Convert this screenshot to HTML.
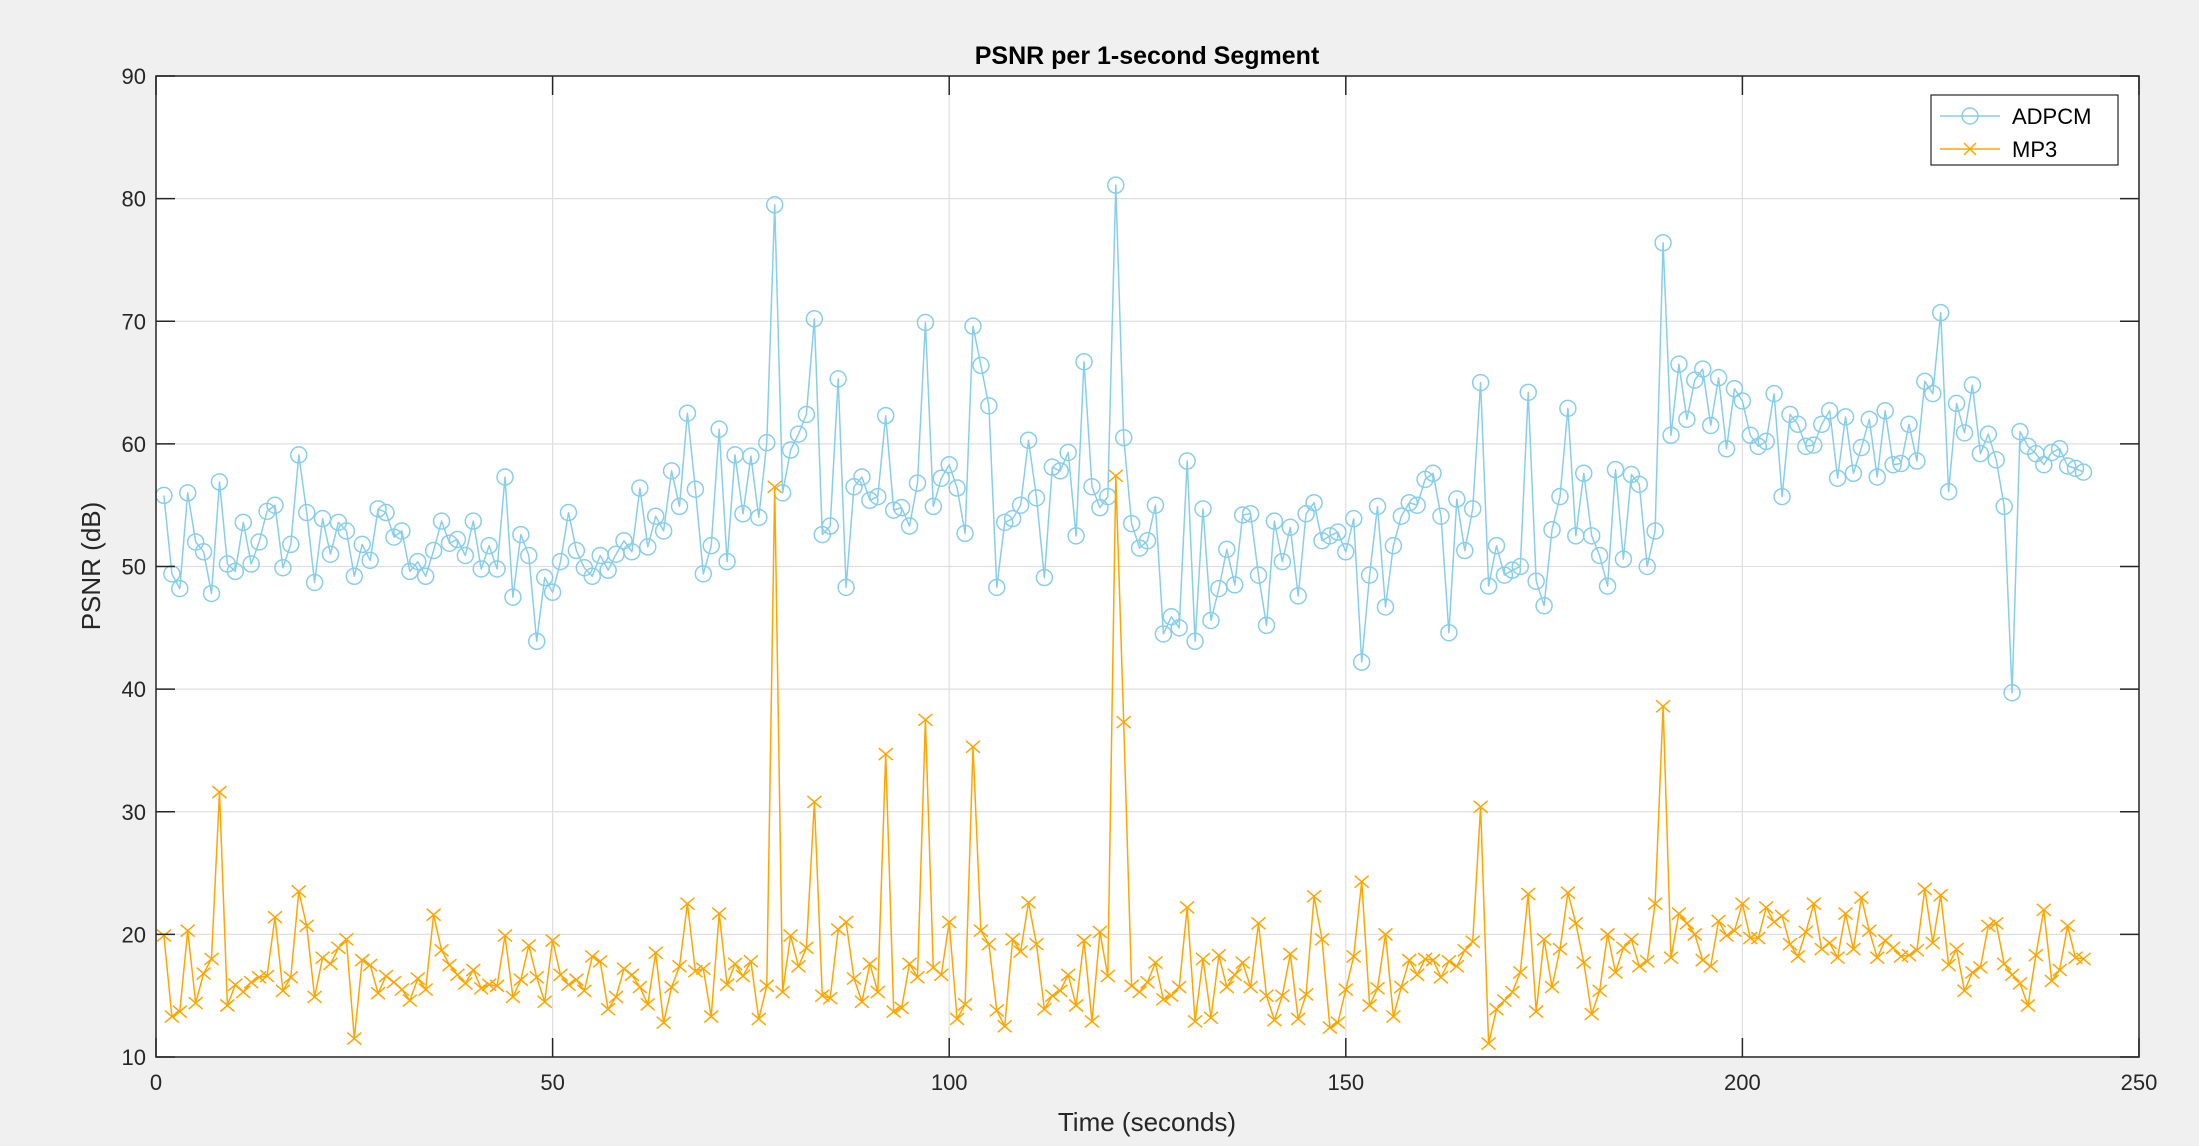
<!DOCTYPE html>
<html><head><meta charset="utf-8">
<style>
html,body{margin:0;padding:0;background:#f0f0f0;}
svg{display:block;font-family:"Liberation Sans",Arial,sans-serif;}
</style></head>
<body>
<svg id="chart" width="2199" height="1146" viewBox="0 0 2199 1146" xmlns="http://www.w3.org/2000/svg">
  <rect x="0" y="0" width="2199" height="1146" fill="#f0f0f0"/>
  <rect x="156" y="76" width="1983" height="981" fill="#ffffff"/>
  <g id="grid"></g>
  <g id="series"></g>
  <rect x="156" y="76" width="1983" height="981" fill="none" stroke="#262626" stroke-width="1.5"/>
  <g id="ticks"></g>
  <text x="1147" y="64" text-anchor="middle" font-size="25" font-weight="bold" fill="#000">PSNR per 1-second Segment</text>
  <text x="1147" y="1131" text-anchor="middle" font-size="26" fill="#262626">Time (seconds)</text>
  <text transform="translate(100,566) rotate(-90)" text-anchor="middle" font-size="26" fill="#262626">PSNR (dB)</text>
  <g>
    <rect x="1931" y="95" width="187" height="70" fill="#fff" stroke="#262626" stroke-width="1.2"/>
    <g>
      <line x1="1940" y1="116" x2="2000" y2="116" stroke="#87ceeb" stroke-width="1.5"/>
      <circle cx="1970" cy="116" r="8" fill="none" stroke="#87ceeb" stroke-width="1.5"/>
      <text x="2012" y="124" font-size="22" fill="#000">ADPCM</text>
    </g>
    <g>
      <line x1="1940" y1="149" x2="2000" y2="149" stroke="#ffa500" stroke-width="1.5"/>
      <path d="M1964 143 L1976 155 M1976 143 L1964 155" stroke="#ffa500" stroke-width="1.5"/>
      <text x="2012" y="157" font-size="22" fill="#000">MP3</text>
    </g>
  </g>
</svg>
<script>
const xTicks = [0, 50, 100, 150, 200, 250];
const yTicks = [10, 20, 30, 40, 50, 60, 70, 80, 90];
const adpcm = [
55.8,49.4,48.2,56.0,52.0,51.2,47.8,56.9,50.2,49.6,53.6,50.2,52.0,54.5,55.0,49.9,51.8,59.1,54.4,48.7,
53.9,51.0,53.6,52.9,49.2,51.8,50.5,54.7,54.4,52.4,52.9,49.6,50.4,49.2,51.3,53.7,51.9,52.2,50.9,53.7,
49.8,51.7,49.8,57.3,47.5,52.6,50.9,43.9,49.1,47.9,50.4,54.4,51.3,49.9,49.2,50.9,49.7,51.0,52.1,51.2,
56.4,51.6,54.1,52.9,
57.8,54.9,62.5,56.3,49.4,51.7,61.2,50.4,59.1,54.3,59.0,54.0,60.1,79.5,56.0,59.5,60.8,62.4,70.2,52.6,
53.3,65.3,48.3,56.5,57.3,55.4,55.7,62.3,54.6,54.8,53.3,56.8,69.9,54.9,57.2,58.3,56.4,52.7,69.6,66.4,
63.1,48.3,53.6,53.9,55.0,60.3,55.6,49.1,58.1,57.8,59.3,52.5,66.7,56.5,54.8,55.7,81.1,60.5,53.5,51.5,
52.1,55.0,44.5,
45.9,45.0,58.6,43.9,54.7,45.6,48.2,51.4,48.5,54.2,54.3,49.3,45.2,53.7,50.4,53.2,47.6,54.3,55.2,52.1,
52.5,52.8,51.2,53.9,42.2,49.3,54.9,46.7,51.7,54.1,55.2,55.0,57.1,57.6,54.1,44.6,55.5,51.3,54.7,65.0,
48.4,51.7,49.3,49.7,50.0,64.2,48.8,46.8,53.0,55.7,62.9,52.5,57.6,52.5,50.9,48.4,57.9,50.6,57.5,56.7,
50.0,52.9,76.4,
60.7,66.5,62.0,65.2,66.1,61.5,65.4,59.6,64.5,63.5,60.7,59.8,60.2,64.1,55.7,62.4,61.6,59.8,59.9,61.6,
62.7,57.2,62.2,57.6,59.7,62.0,57.3,62.7,58.3,58.4,61.6,58.6,65.1,64.1,70.7,56.1,63.3,60.9,64.8,59.2,
60.8,58.7,54.9,39.7,61.0,59.8,59.2,58.3,59.3,59.6,58.2,58.0,57.7
];
const mp3 = [
19.9,13.3,13.7,20.3,14.4,16.8,18.0,31.6,14.2,15.9,15.3,16.1,16.5,16.6,21.4,15.4,16.5,23.5,20.7,14.9,
18.1,17.6,18.9,19.6,11.5,17.9,17.5,15.2,16.6,16.1,15.5,14.6,16.4,15.5,21.6,18.7,17.5,16.7,16.0,17.1,
15.6,15.9,15.8,19.9,14.9,16.3,19.1,16.5,14.5,19.5,16.7,15.9,16.3,15.4,18.2,17.8,13.9,14.9,17.2,16.7,
15.7,14.3,18.5,12.8,
15.7,17.4,22.5,17.0,17.2,13.3,21.7,15.9,17.6,16.6,17.8,13.1,15.8,56.5,15.3,19.9,17.4,18.9,30.8,15.0,
14.8,20.4,21.0,16.4,14.5,17.6,15.3,34.7,13.7,14.0,17.6,16.5,37.5,17.3,16.7,21.0,13.1,14.3,35.3,20.3,
19.2,13.8,12.5,19.6,18.6,22.6,19.2,13.9,15.0,15.4,16.7,14.2,19.5,12.9,20.2,16.6,57.4,37.3,15.8,15.3,
16.1,17.7,14.7,
15.0,15.7,22.2,12.9,18.0,13.2,18.3,15.7,16.7,17.7,15.7,20.9,15.0,13.0,15.0,18.4,13.1,15.1,23.1,19.6,
12.4,12.8,15.5,18.2,24.3,14.2,15.6,20.0,13.3,15.7,17.9,16.7,18.0,17.9,16.5,17.8,17.4,18.7,19.4,30.4,
11.1,13.9,14.6,15.3,16.9,23.3,13.7,19.6,15.7,18.8,23.4,20.9,17.7,13.5,15.4,20.0,16.9,18.9,19.6,17.4,
17.8,22.5,38.6,
18.1,21.7,20.9,20.0,17.9,17.4,21.1,19.9,20.3,22.5,19.7,19.7,22.2,21.0,21.5,19.2,18.2,20.2,22.5,18.8,
19.3,18.1,21.7,18.8,23.0,20.3,18.1,19.5,18.9,18.2,18.3,18.7,23.7,19.3,23.2,17.5,18.8,15.4,16.9,17.3,
20.7,20.9,17.6,16.7,16.0,14.2,18.3,22.0,16.2,17.1,20.7,18.1,18.0
];

const NS = "http://www.w3.org/2000/svg";
const X0 = 156, X1 = 2139, Y0 = 1057, Y1 = 76;
function xs(v){ return X0 + (v - 0) / 250 * (X1 - X0); }
function ys(v){ return Y0 - (v - 10) / 80 * (Y0 - Y1); }
function mk(tag, attrs){ const e = document.createElementNS(NS, tag); for (const k in attrs) e.setAttribute(k, attrs[k]); return e; }

const grid = document.getElementById('grid');
const ticks = document.getElementById('ticks');
xTicks.forEach(t => {
  const x = xs(t);
  const gl = mk('line', {x1:x, y1:Y1, x2:x, y2:Y0, stroke:'#dfdfdf', 'stroke-width':1.2});
  
  
  grid.appendChild(gl);
  const tk = mk('path', {d:`M${x} ${Y0} L${x} ${Y0-19} M${x} ${Y1} L${x} ${Y1+19}`, stroke:'#262626', 'stroke-width':1.5});
  
  
  ticks.appendChild(tk);
  const lb = mk('text', {x:x, y:Y0+33, 'text-anchor':'middle', 'font-size':22, fill:'#262626'});
  lb.textContent = t;
  
  
  ticks.appendChild(lb);
});
yTicks.forEach(t => {
  const y = ys(t);
  const gl = mk('line', {x1:X0, y1:y, x2:X1, y2:y, stroke:'#dfdfdf', 'stroke-width':1.2});
  
  
  grid.appendChild(gl);
  const tk = mk('path', {d:`M${X0} ${y} L${X0+19} ${y} M${X1} ${y} L${X1-19} ${y}`, stroke:'#262626', 'stroke-width':1.5});
  
  
  ticks.appendChild(tk);
  const lb = mk('text', {x:X0-10, y:y+8, 'text-anchor':'end', 'font-size':22, fill:'#262626'});
  lb.textContent = t;
  
  
  ticks.appendChild(lb);
});

const series = document.getElementById('series');
function drawSeries(vals, color, marker, name){
  const g = mk('g', {});
  
  
  const pts = vals.map((v,i) => xs(i+1).toFixed(1) + ',' + ys(v).toFixed(1)).join(' ');
  const pl = mk('polyline', {points:pts, fill:'none', stroke:color, 'stroke-width':1.5, 'stroke-linejoin':'round'});
  
  
  g.appendChild(pl);
  vals.forEach((v,i) => {
    const x = xs(i+1), y = ys(v);
    let m;
    if (marker === 'o') {
      m = mk('circle', {cx:x, cy:y, r:8, fill:'none', stroke:color, 'stroke-width':1.5});
    } else {
      m = mk('path', {d:`M${x-7} ${y-6} L${x+7} ${y+6} M${x+7} ${y-6} L${x-7} ${y+6}`, stroke:color, 'stroke-width':1.5});
    }
    
    
    g.appendChild(m);
  });
  series.appendChild(g);
}
drawSeries(adpcm, '#87ceeb', 'o', 'adpcm');
drawSeries(mp3, '#ffa500', 'x', 'mp3');
</script>
</body></html>
